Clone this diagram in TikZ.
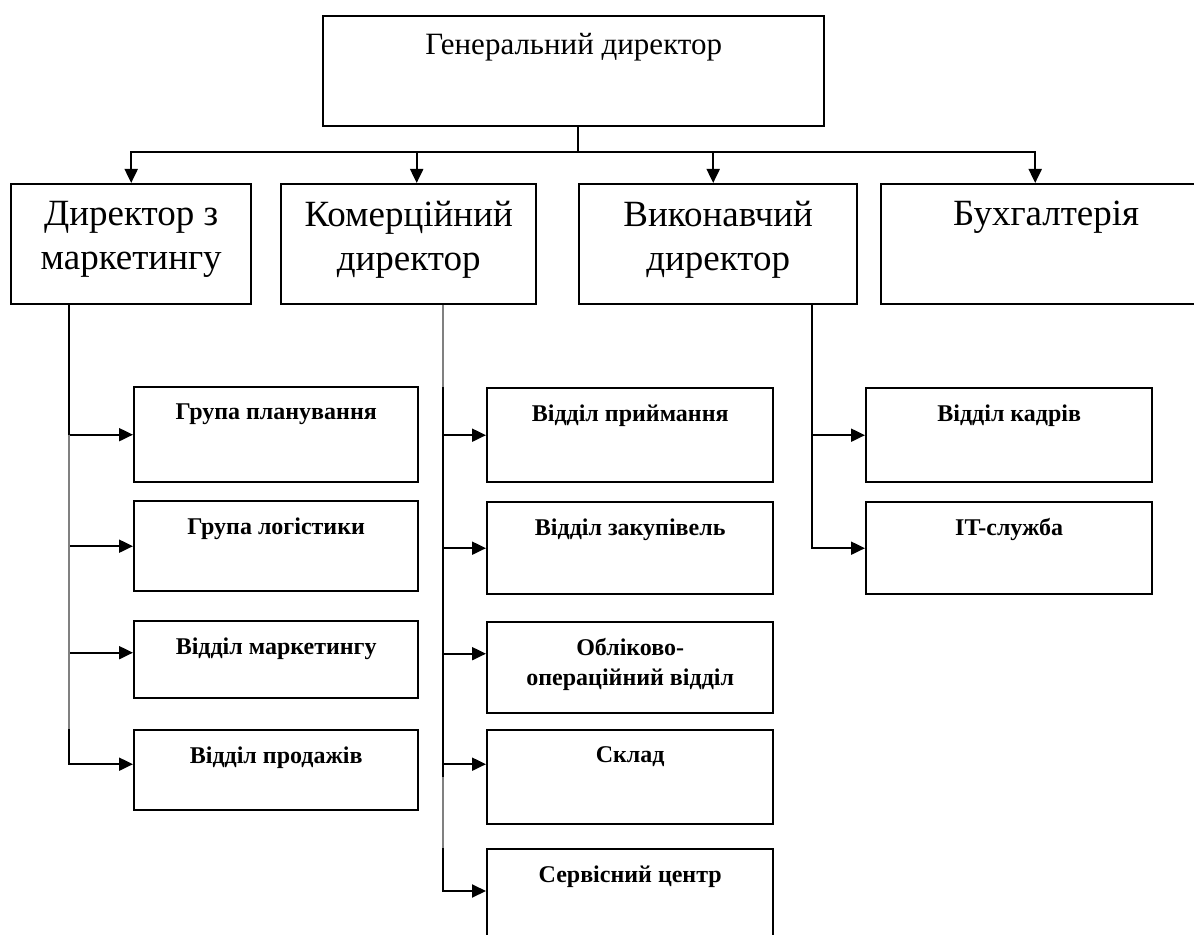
\documentclass[tikz,border=0pt]{standalone}
\usepackage{fontspec}
\setmainfont{Liberation Serif}
\usetikzlibrary{arrows.meta,positioning}

\begin{document}
\begin{tikzpicture}[x=0.5pt, y=-0.5pt,
    box/.style={draw=black, line width=1.2pt, anchor=north west, inner sep=0pt},
    headbox/.style={box, minimum width=250.5pt, minimum height=55pt},
    chiefbox/.style={box, minimum height=60pt},
    deptbox/.style={box, minimum width=142pt},
    boxtext/.style={anchor=north, inner sep=0pt, align=center},
    headtext/.style={boxtext, yshift=-9pt, font=\fontsize{15.5}{19}\selectfont},
    chieftext/.style={boxtext, yshift=-9pt, font=\fontsize{18.5}{22}\selectfont},
    depttext/.style={boxtext, yshift=-8.5pt, font=\fontsize{12}{15}\selectfont\bfseries},
    conn/.style={draw=black, line width=1pt},
    connarrow/.style={conn, -{Triangle[length=7pt, width=6.5pt]}},
    faint/.style={draw=black!50}]
  \useasboundingbox (0,0) rectangle (1194,935);
  \clip (0,0) rectangle (1194,935);
  % Place nodes
  % Top
    \node[headbox, label={[headtext]north:Генеральний директор}] (gd) at (322,15) {};
  % Directors
    \node[chiefbox, minimum width=120pt, label={[chieftext]north:{Директор з\\маркетингу}}] (mkt) at (10,183) {};
    \node[chiefbox, minimum width=127.5pt, label={[chieftext]north:{Комерційний\\директор}}] (com) at (280,183) {};
    \node[chiefbox, minimum width=139pt, label={[chieftext]north:{Виконавчий\\директор}}] (exe) at (578,183) {};
    \node[chiefbox, minimum width=165pt, label={[chieftext]north:Бухгалтерія}] (acc) at (880,183) {};
  % Marketing units
    \node[deptbox, minimum height=47.5pt, label={[depttext]north:Група планування}] (gp) at (133,386) {};
    \node[deptbox, minimum height=45pt, label={[depttext]north:Група логістики}] (gl) at (133,500) {};
    \node[deptbox, minimum height=38.5pt, label={[depttext]north:Відділ маркетингу}] (vm) at (133,620) {};
    \node[deptbox, minimum height=40pt, label={[depttext]north:Відділ продажів}] (vp) at (133,729) {};
  % Commercial units
    \node[deptbox, minimum width=143pt, minimum height=47pt, label={[depttext]north:Відділ приймання}] (vpr) at (486,387) {};
    \node[deptbox, minimum width=143pt, minimum height=46pt, label={[depttext]north:Відділ закупівель}] (vz) at (486,501) {};
    \node[deptbox, minimum width=143pt, minimum height=45.5pt, label={[depttext]north:{Обліково-\\операційний відділ}}] (oov) at (486,621) {};
    \node[deptbox, minimum width=143pt, minimum height=47pt, label={[depttext]north:Склад}] (skl) at (486,729) {};
    \node[deptbox, minimum width=143pt, minimum height=60pt, label={[depttext]north:Сервісний центр}] (sc) at (486,848) {};
  % Executive units
    \node[deptbox, minimum width=143pt, minimum height=47pt, label={[depttext]north:Відділ кадрів}] (vk) at (865,387) {};
    \node[deptbox, minimum width=143pt, minimum height=46pt, label={[depttext]north:IT-служба}] (it) at (865,501) {};
  % Create edges
  % From the top
    \coordinate (bus) at (578,152);
    \draw[conn] (gd.south -| bus) -- (bus);
    \draw[connarrow] (bus) -| (mkt.north);
    \draw[connarrow] (bus) -| ([xshift=4pt]com.north);
    \draw[connarrow] (bus) -| ([xshift=-2.5pt]exe.north);
    \draw[connarrow] (bus) -| ([xshift=-5.5pt]acc.north);
  % Marketing
    \coordinate (mkttrunk) at ([xshift=29.5pt]mkt.south west);
    \draw[connarrow] (mkttrunk) |- (gp.west);
    \draw[connarrow] (mkttrunk) |- (gl.west);
    \draw[connarrow] (mkttrunk) |- ([yshift=3.5pt]vm.west);
    \draw[connarrow] (mkttrunk) |- ([yshift=3pt]vp.west);
    \draw[conn, faint] (mkttrunk |- gp.west) -- (mkttrunk |- vp.north);
  % Commercial
    \coordinate (comtrunk) at ([xshift=81.5pt]com.south west);
    \draw[connarrow] (comtrunk) |- (vpr.west);
    \draw[connarrow] (comtrunk) |- (vz.west);
    \draw[connarrow] (comtrunk) |- ([yshift=7pt]oov.west);
    \draw[connarrow] (comtrunk) |- ([yshift=6.5pt]skl.west);
    \draw[connarrow] (comtrunk) |- ([yshift=-21.5pt]sc.north west);
    \draw[conn, faint] (comtrunk) -- (comtrunk |- vpr.north);
    \draw[conn, faint] (comtrunk |- skl.west) -- (comtrunk |- sc.north);
  % Executive
    \coordinate (exetrunk) at ([xshift=117pt]exe.south west);
    \draw[connarrow] (exetrunk) |- (vk.west);
    \draw[connarrow] (exetrunk) |- (it.west);
\end{tikzpicture}
\end{document}
